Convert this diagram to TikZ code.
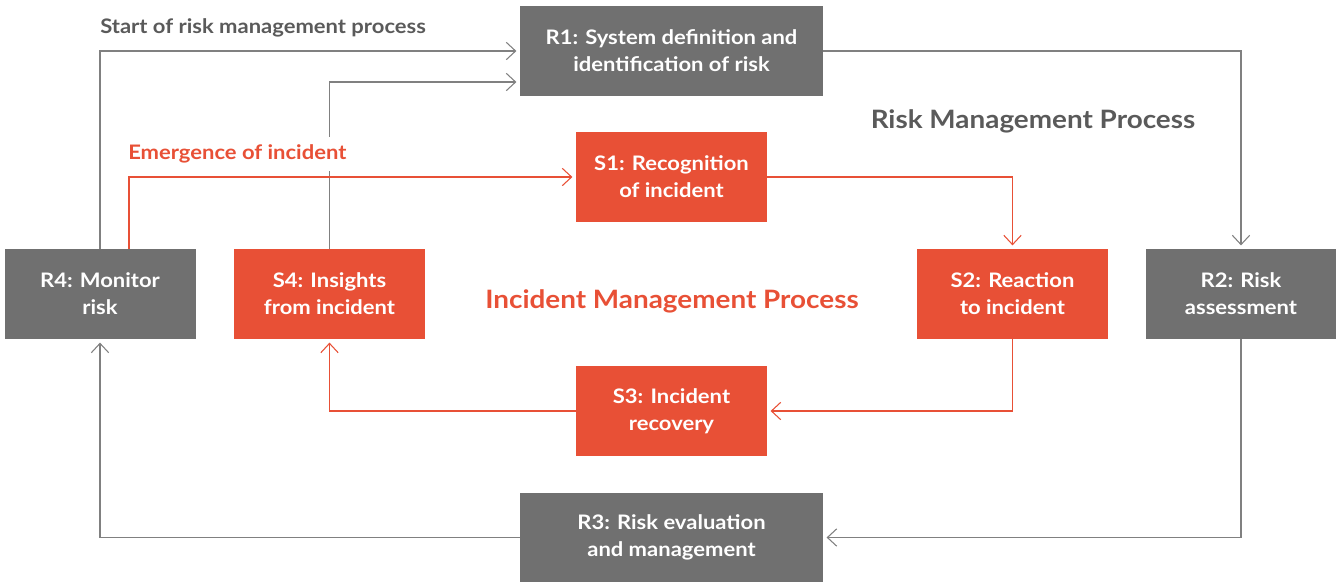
\documentclass[tikz,border=0pt]{standalone}
\usepackage{fontspec}
\setmainfont{Lato}[FakeStretch=1.1]
\usetikzlibrary{arrows.meta, positioning}
\definecolor{rgray}{HTML}{707070}
\definecolor{ired}{HTML}{E85036}
\definecolor{lgray}{HTML}{808080}
\definecolor{tgray}{HTML}{5A5A5A}
\tikzset{
  x=0.75pt, y=-0.75pt,
  box/.style={
    fill=#1, draw=none, text=white, align=center, inner sep=0pt,
    minimum width=143.25pt, minimum height=67.5pt,
    font=\fontsize{15}{20.25}\selectfont\bfseries
  },
  box/.default=rgray,
  garr/.style={draw=lgray, line width=0.9pt,
    -{Straight Barb[length=7pt,width=13pt,line width=0.8pt]}, shorten >=2.5pt},
  rarr/.style={draw=ired, line width=0.9pt,
    -{Straight Barb[length=7pt,width=13pt,line width=0.8pt]}, shorten >=2.5pt},
  lab/.style={font=\fontsize{15}{18}\selectfont\bfseries, text=#1, inner sep=0pt},
  title/.style={font=\fontsize{19}{22}\selectfont\bfseries, text=#1, inner sep=0pt}
}
\begin{document}
\begin{tikzpicture}
  \useasboundingbox (0,0) rectangle (1336,582);
  % risk management boxes
  \node[box, minimum width=227.25pt] (r1) at (671.5,51) {R1: System definition and\\identification of risk};
  \node[box] (r2) at (1241,294) {R2: Risk\\assessment};
  \node[box, minimum width=227.25pt] (r3) at (671.5,537.5) {R3: Risk evaluation\\and management};
  \node[box] (r4) at (100,294) {R4: Monitor\\risk};
  % incident management boxes
  \node[box=ired] (s1) at (671.5,177) {S1: Recognition\\of incident};
  \node[box=ired] (s2) at (1012.5,294) {S2: Reaction\\to incident};
  \node[box=ired] (s3) at (671.5,411) {S3: Incident\\recovery};
  \node[box=ired] (s4) at (329.5,294) {S4: Insights\\from incident};
  % risk loop
  \draw[garr] (r4.north) |- (r1.west);
  \draw[garr] (s4.north) |- ([yshift=-23.25pt]r1.west);
  \draw[garr] (r1.east) -| (r2.north);
  \draw[garr] (r2.south) |- (r3.east);
  \draw[garr] (r3.west) -| (r4.south);
  % labels
  \node[lab=tgray, anchor=west] (start) at (100,28) {Start of risk management process};
  \node[lab=ired, anchor=west, fill=white, minimum height=25pt] (emerg) at (128,154) {Emergence of incident};
  \node[title=tgray] (rmp) at (1033,121) {Risk Management Process};
  \node[title=ired] (imp) at (672,301) {Incident Management Process};
  % incident loop
  \draw[rarr] ([xshift=21.75pt]r4.north) |- (s1.west);
  \draw[rarr] (s1.east) -| (s2.north);
  \draw[rarr] (s2.south) |- (s3.east);
  \draw[rarr] (s3.west) -| (s4.south);
\end{tikzpicture}
\end{document}
